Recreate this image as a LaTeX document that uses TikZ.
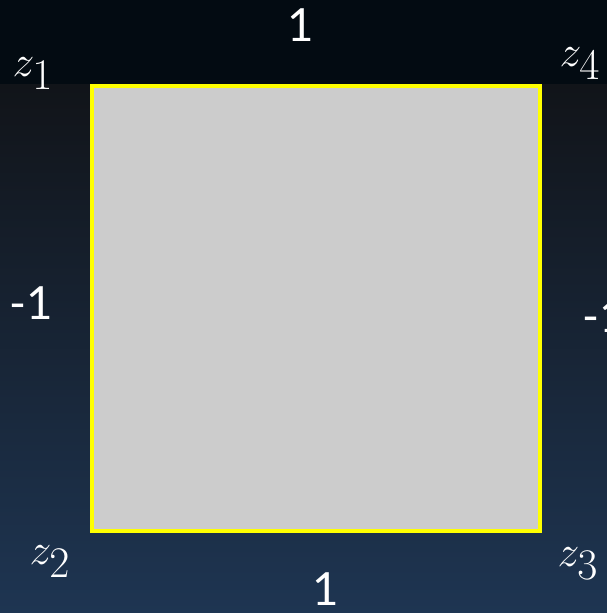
\documentclass[tikz,border=0pt]{standalone}
\usepackage{fontspec}
\setsansfont{Lato}
\usetikzlibrary{positioning}
\definecolor{FondoAlto}{HTML}{030B12}
\definecolor{FondoMedio}{HTML}{111419}
\definecolor{FondoBajo}{HTML}{1E3552}
\definecolor{BordeCuadro}{HTML}{FFFF00}
\definecolor{RellenoCuadro}{HTML}{CCCCCC}
\tikzset{
  vertice/.style={text=white,font=\fontsize{34}{40}\selectfont,inner sep=0pt},
  lado/.style={text=white,font=\sffamily\fontsize{26}{30}\selectfont,inner sep=0pt},
}

\begin{document}
\begin{tikzpicture}[x=0.02cm,y=-0.02cm]
  % fondo
  \fill[FondoAlto] (0,0) rectangle (607,84);
  \shade[top color=FondoMedio,bottom color=FondoBajo] (0,84) rectangle (607,613);
  \useasboundingbox (0,0) rectangle (607,613);
  % cuadro
  \coordinate (A) at (92,86);
  \coordinate (C) at (540,531);
  \draw[BordeCuadro,line width=2.3pt,fill=RellenoCuadro] (A) rectangle (C);
  % vertices
  \node[vertice] (z1) at (33,74) {$z_1$};
  \node[vertice] (z2) at (50,562) {$z_2$};
  \node[vertice] (z3) at (578,564) {$z_3$};
  \node[vertice] (z4) at (580,64) {$z_4$};
  % lados
  \node[lado] (arriba) at (301,25) {1};
  \node[lado] (abajo) at (326,589) {1};
  \node[lado] (izq) at (31,303) {-1};
  \node[lado,anchor=west] (der) at (582,316) {-1};
\end{tikzpicture}
\end{document}
